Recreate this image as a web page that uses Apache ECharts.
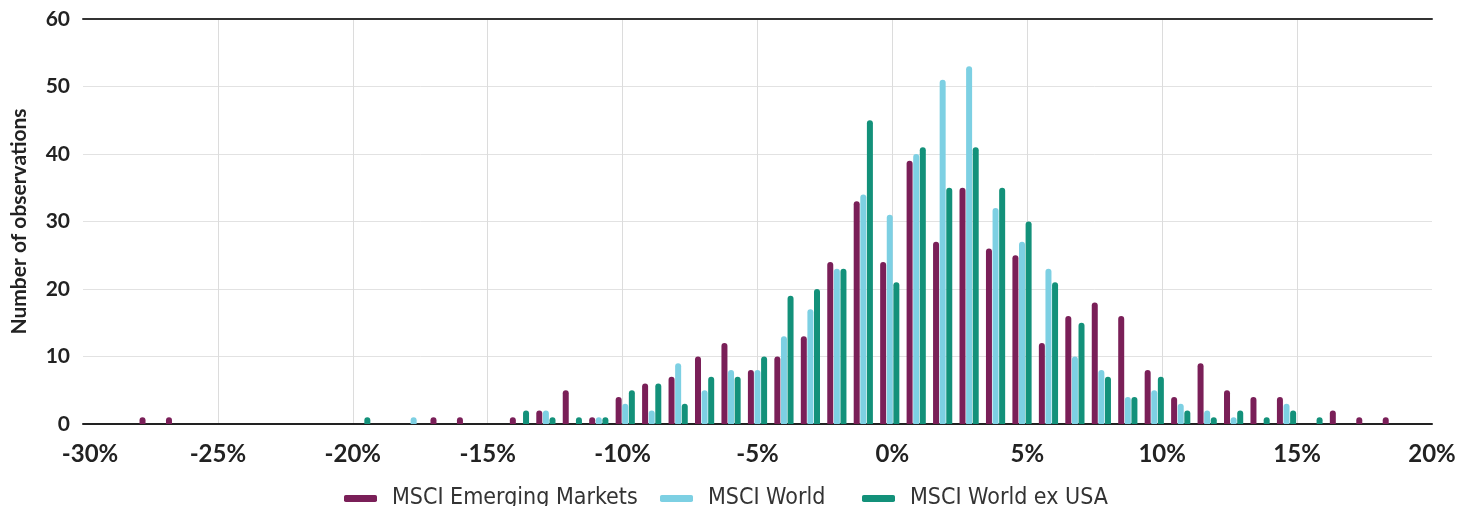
<!DOCTYPE html>
<html>
<head>
<meta charset="utf-8">
<script src="https://cdn.jsdelivr.net/npm/echarts@6/dist/echarts.min.js"></script>
<style>
html,body{margin:0;padding:0;background:#fff;}
#chart{width:1468px;height:506px;}
</style>
</head>
<body>
<div id="chart"></div>
<script>
// Return bins (%), one category per bin
var categories = [-30,-29,-28,-27,-26,-25,-24,-23,-22,-21,-20,-19,-18,-17,-16,-15,-14,-13,-12,-11,-10,-9,-8,-7,-6,-5,-4,-3,-2,-1,0,1,2,3,4,5,6,7,8,9,10,11,12,13,14,15,16,17,18,19,20];

var emergingMarkets = [0,0,1,1,0,0,0,0,0,0,0,0,0,1,1,0,1,2,5,1,4,6,7,10,12,8,10,13,24,33,24,39,27,35,26,25,12,16,18,16,8,4,9,5,4,4,0,2,1,1,0];
var msciWorld       = [0,0,0,0,0,0,0,0,0,0,0,0,1,0,0,0,0,2,0,1,3,2,9,5,8,8,13,17,23,34,31,40,51,53,32,27,23,10,8,4,5,3,2,1,0,3,0,0,0,0,0];
var worldExUsa      = [0,0,0,0,0,0,0,0,0,0,1,0,0,0,0,0,2,1,1,1,5,6,3,7,7,10,19,20,23,45,21,41,35,41,35,30,21,15,7,4,7,2,1,2,1,2,1,0,0,0,0];

var seriesNames = ['MSCI Emerging Markets', 'MSCI World', 'MSCI World ex USA'];
var seriesColors = ['#7a1f58', '#7dd0e3', '#13917a'];

var xTickMin = -30, xTickMax = 20, xTickStep = 5;
var yMin = 0, yMax = 60, yStep = 10;

var FONT = 'Lato, "Open Sans", sans-serif';
var LEGEND_FONT = '"DejaVu Sans Condensed", "Liberation Sans Narrow", Lato, sans-serif';

var chart = echarts.init(document.getElementById('chart'), null, {renderer: 'canvas'});

function barSeries(name, data, color) {
  return {
    name: name,
    type: 'bar',
    xAxisIndex: 0,
    yAxisIndex: 0,
    data: data,
    barWidth: 6,
    barGap: '10%',
    itemStyle: {color: color, borderRadius: [3, 3, 0, 0]},
    emphasis: {disabled: true}
  };
}

var legendLefts = [344, 660, 862];
function legendFor(i) {
  return {
    left: legendLefts[i],
    top: 487,
    itemWidth: 33,
    itemHeight: 7,
    icon: 'roundRect',
    selectedMode: false,
    padding: 0,
    textStyle: {fontFamily: LEGEND_FONT, fontSize: 23, color: '#333', padding: [0, 0, 0, 10], lineHeight: 23},
    data: [seriesNames[i]]
  };
}

chart.setOption({
  animation: false,
  backgroundColor: '#ffffff',
  textStyle: {fontFamily: FONT},
  grid: {left: 83, right: 36, top: 19, bottom: 82, containLabel: false, outerBoundsMode: 'none'},
  legend: [legendFor(0), legendFor(1), legendFor(2)],
  xAxis: [
    {
      type: 'category',
      data: categories,
      position: 'top',
      boundaryGap: true,
      axisLine: {show: true, onZero: false, lineStyle: {color: '#333', width: 2}},
      axisTick: {show: false},
      axisLabel: {show: false},
      splitLine: {show: false}
    },
    {
      type: 'value',
      position: 'bottom',
      min: xTickMin,
      max: xTickMax,
      interval: xTickStep,
      axisLine: {show: true, onZero: false, lineStyle: {color: '#222', width: 2}},
      axisTick: {show: false},
      axisLabel: {
        show: true,
        formatter: function (v) {
          return v === xTickMin ? '{first|' + v + '%}' : v + '%';
        },
        rich: {first: {padding: [0, 0, 0, 14], fontFamily: FONT, fontSize: 24, fontWeight: 'bold', color: '#222'}},
        fontFamily: FONT,
        fontSize: 24,
        fontWeight: 'bold',
        color: '#222',
        margin: 18
      },
      splitLine: {show: true, showMinLine: false, showMaxLine: false, lineStyle: {color: '#dcdcdc', width: 1}}
    }
  ],
  yAxis: {
    type: 'value',
    min: yMin,
    max: yMax,
    interval: yStep,
    name: 'Number of observations',
    nameLocation: 'middle',
    nameGap: 53,
    nameTextStyle: {fontFamily: FONT, fontSize: 21, fontWeight: 'bold', color: '#222'},
    axisLine: {show: false},
    axisTick: {show: false},
    axisLabel: {fontFamily: FONT, fontSize: 21, fontWeight: 'bold', color: '#222', margin: 13},
    splitLine: {show: true, showMinLine: false, showMaxLine: false, lineStyle: {color: '#e2e2e2', width: 1}}
  },
  series: [
    barSeries(seriesNames[0], emergingMarkets, seriesColors[0]),
    barSeries(seriesNames[1], msciWorld, seriesColors[1]),
    barSeries(seriesNames[2], worldExUsa, seriesColors[2])
  ]
});
</script>
</body>
</html>
